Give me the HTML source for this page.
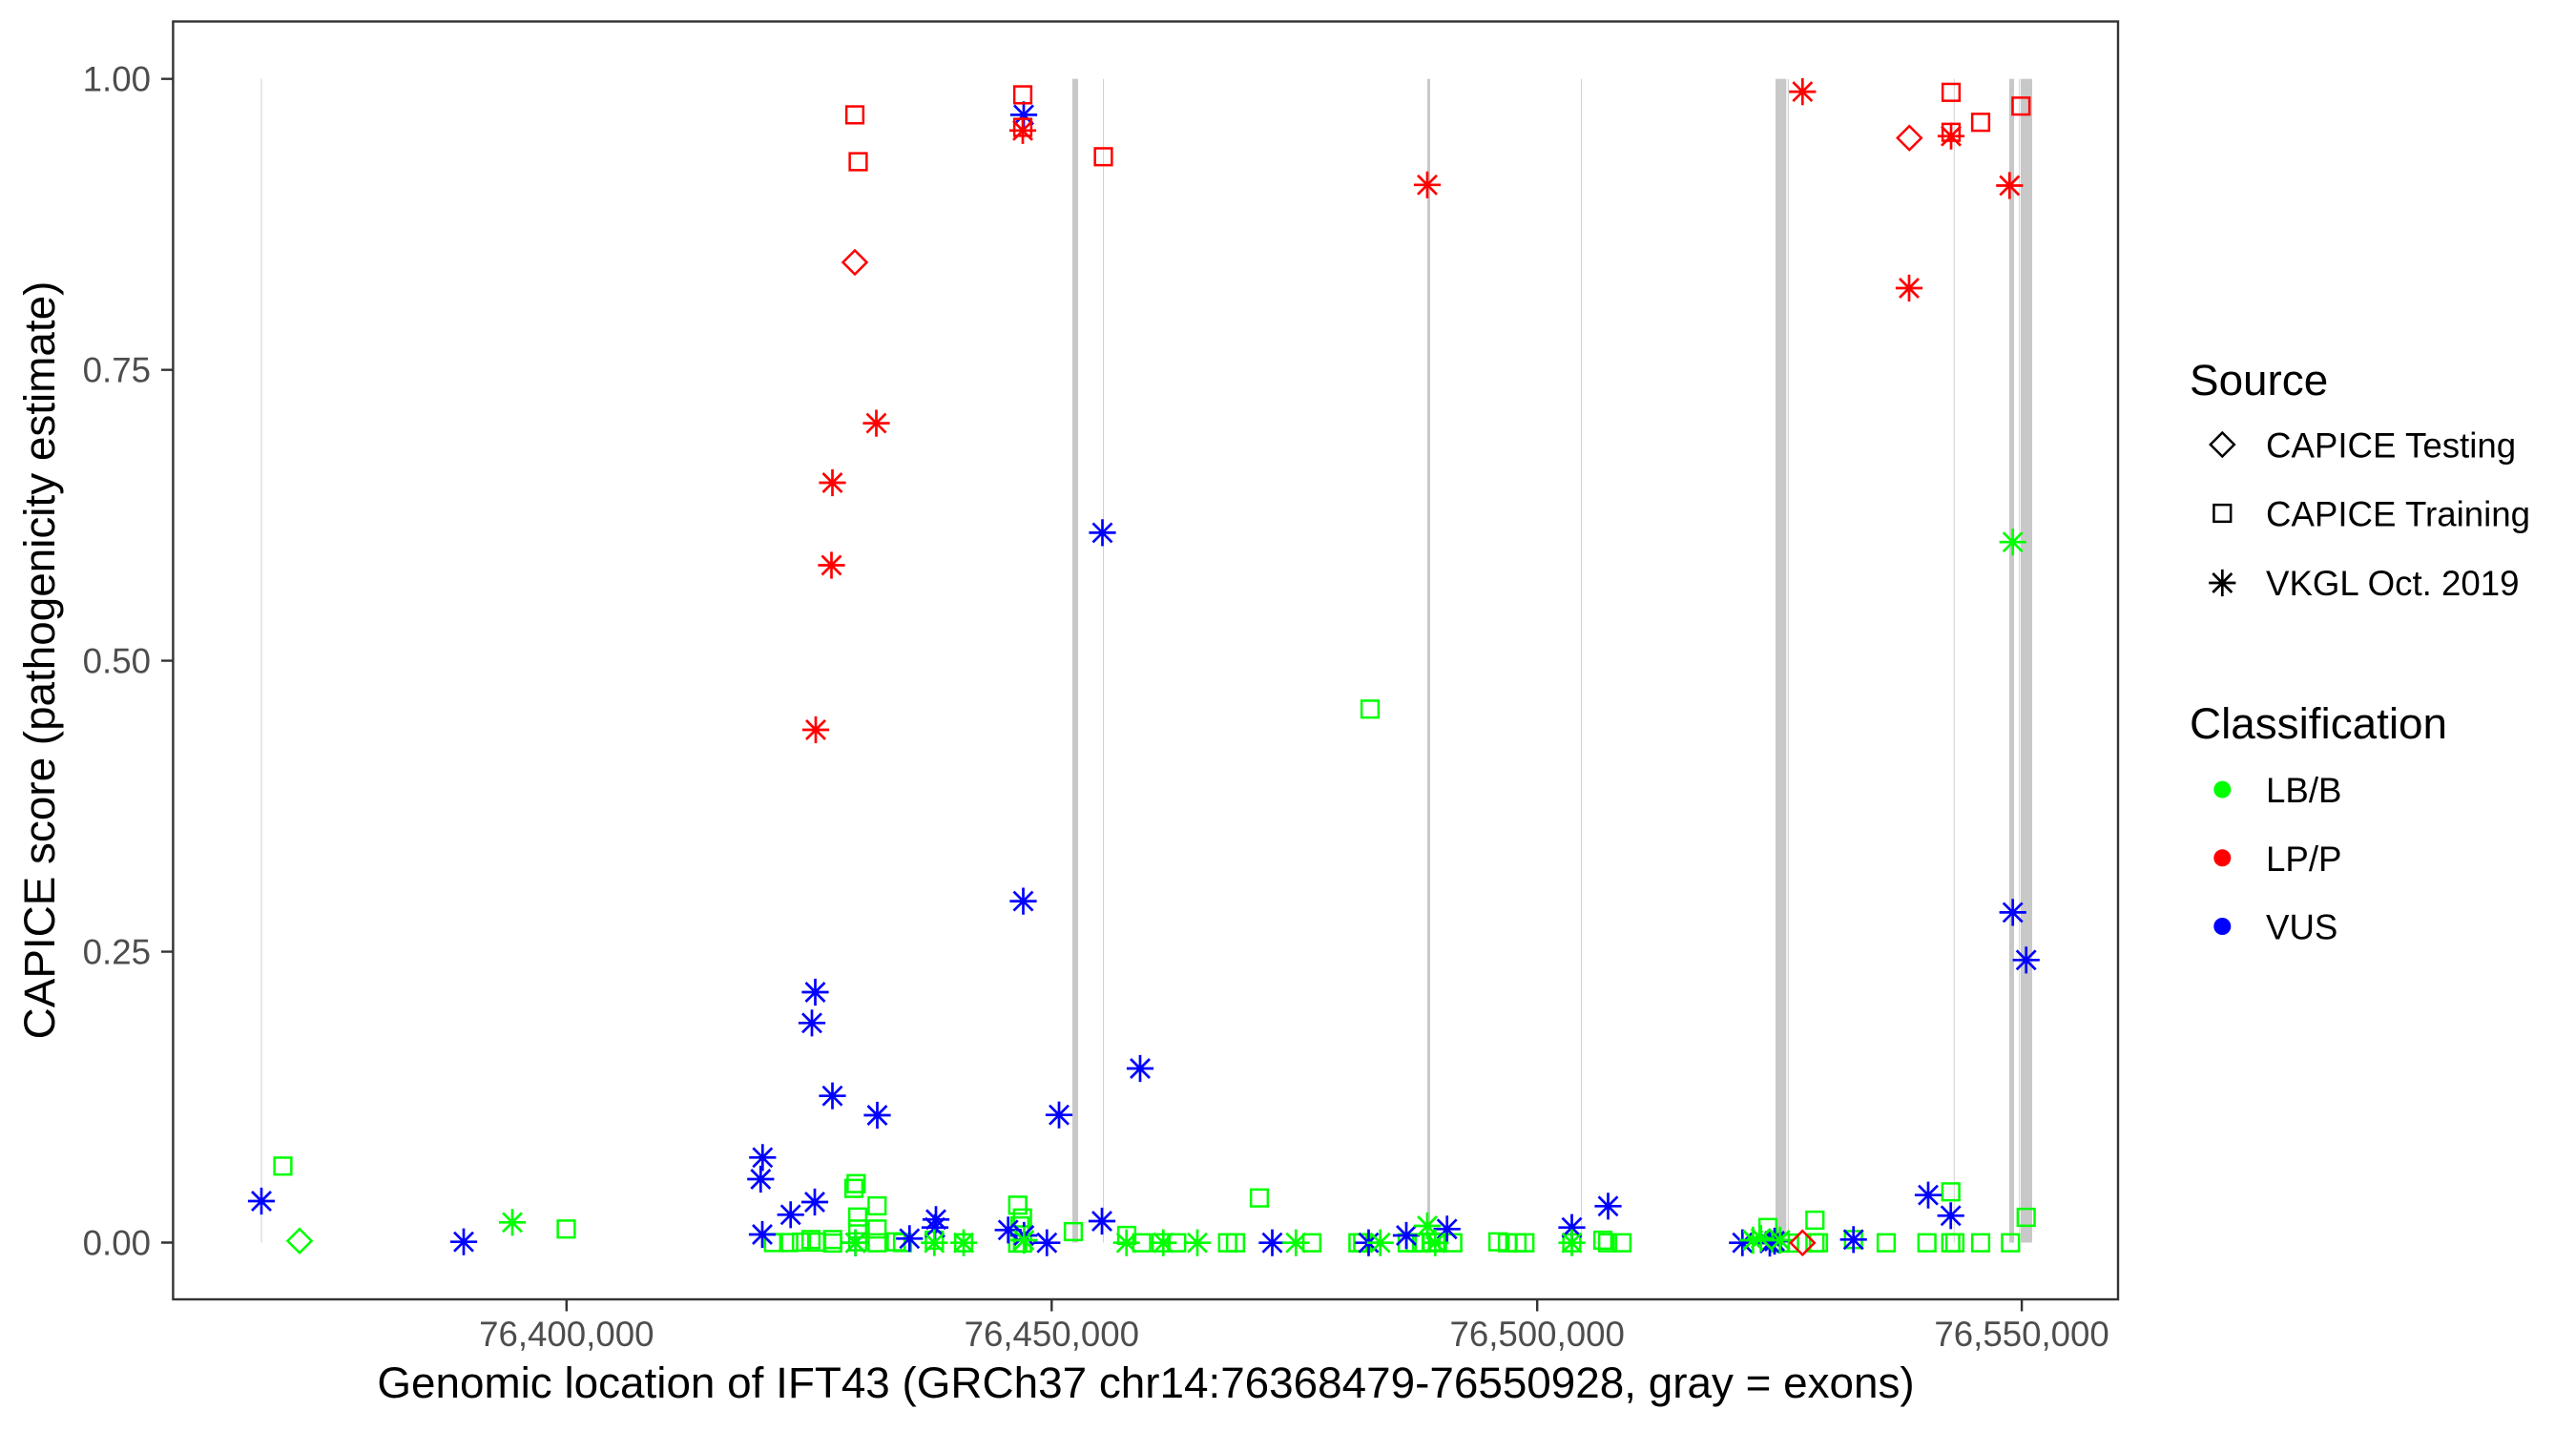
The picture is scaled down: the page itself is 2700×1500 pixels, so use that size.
<!DOCTYPE html>
<html>
<head>
<meta charset="utf-8">
<style>
html,body{margin:0;padding:0;background:#fff;}
svg{display:block;}
text{font-family:"Liberation Sans",Arial,sans-serif;}
.tk{font-size:36.67px;fill:#4d4d4d;}
.lt{font-size:36.67px;fill:#000;}
.tt{font-size:45.83px;fill:#000;}
.pts{fill:none;stroke:none;}
</style>
</head>
<body>
<svg width="2700" height="1500" viewBox="0 0 2700 1500" xmlns="http://www.w3.org/2000/svg">
<defs>
<marker id="sqg" markerUnits="userSpaceOnUse" markerWidth="1" markerHeight="1" refX="0" refY="0" overflow="visible"><rect x="-8.85" y="-8.85" width="17.7" height="17.7" fill="none" stroke="#00ff00" stroke-width="2.5"/></marker>
<marker id="sqr" markerUnits="userSpaceOnUse" markerWidth="1" markerHeight="1" refX="0" refY="0" overflow="visible"><rect x="-8.85" y="-8.85" width="17.7" height="17.7" fill="none" stroke="#ff0000" stroke-width="2.5"/></marker>
<marker id="asg" markerUnits="userSpaceOnUse" markerWidth="1" markerHeight="1" refX="0" refY="0" overflow="visible"><path d="M-14.1,0H14.1M0,-14.1V14.1M-10,-10L10,10M-10,10L10,-10" fill="none" stroke="#00ff00" stroke-width="2.7"/></marker>
<marker id="asb" markerUnits="userSpaceOnUse" markerWidth="1" markerHeight="1" refX="0" refY="0" overflow="visible"><path d="M-14.1,0H14.1M0,-14.1V14.1M-10,-10L10,10M-10,10L10,-10" fill="none" stroke="#0000ff" stroke-width="2.7"/></marker>
<marker id="asr" markerUnits="userSpaceOnUse" markerWidth="1" markerHeight="1" refX="0" refY="0" overflow="visible"><path d="M-14.1,0H14.1M0,-14.1V14.1M-10,-10L10,10M-10,10L10,-10" fill="none" stroke="#ff0000" stroke-width="2.7"/></marker>
<marker id="dmr" markerUnits="userSpaceOnUse" markerWidth="1" markerHeight="1" refX="0" refY="0" overflow="visible"><path d="M0,-12.5L12.5,0L0,12.5L-12.5,0Z" fill="none" stroke="#ff0000" stroke-width="2.5"/></marker>
</defs>
<rect x="0" y="0" width="2700" height="1500" fill="#fff"/>

<g fill="#c8c8c8">
<rect x="273.5" y="82.7" width="1" height="1219.8" fill="#d2d2d2"/>
<rect x="1124" y="82.7" width="6" height="1219.8"/>
<rect x="1156" y="82.7" width="1" height="1219.8" fill="#d2d2d2"/>
<rect x="1496" y="82.7" width="3" height="1219.8"/>
<rect x="1657" y="82.7" width="1" height="1219.8" fill="#d2d2d2"/>
<rect x="1861" y="82.7" width="11.3" height="1219.8"/>
<rect x="1873.8" y="82.7" width="1.2" height="1219.8" fill="#d2d2d2"/>
<rect x="2047.8" y="82.7" width="1" height="1219.8" fill="#d2d2d2"/>
<rect x="2106" y="82.7" width="5" height="1219.8"/>
<rect x="2116.2" y="82.7" width="1" height="1219.8" fill="#d2d2d2"/>
<rect x="2118" y="82.7" width="12" height="1219.8"/>
</g>

<polyline class="pts" marker-start="url(#sqg)" marker-mid="url(#sqg)" marker-end="url(#sqg)" points="296.5,1222.3 593.5,1288.3 810.7,1302.5 826.7,1302.5 840,1302 850,1299.3 856,1302 872.7,1299.3 872.7,1303 897.3,1240.7 895,1245.7 919.3,1264 899,1275.7 919.3,1288.3 899,1288.3 899,1301.7 919.3,1302.7 939.3,1301.7 946,1302.5 979.3,1300 1010,1302.7 1066.7,1263.3 1071.7,1276.7 1069,1285 1066.7,1303 1071.7,1303 1125,1291 1181,1295 1196.7,1302.7 1217,1302.7 1233.3,1302.7 1286.7,1302.7 1295,1302.7 1320,1255.7 1375,1302.7 1423.3,1302.7 1428.3,1302.7 1436,743.3 1475,1302.7 1483.3,1302.7 1490,1302.7 1500,1302 1506.7,1302.7 1522.7,1302.7 1570,1301.7 1580,1302.7 1590,1302.7 1598.3,1302.7 1647.5,1302.7 1680,1300 1685,1302.7 1700,1302.7 1853,1286.7 1866,1302.7 1875.7,1303 1902.3,1279 1902.3,1302.7 1906,1302.7 1942.7,1299.3 1977,1302.7 2019.7,1302.7 2044.7,1249.3 2044.7,1302.7 2049,1302.7 2076,1302.7 2107.3,1302.7 2123.7,1276"/>
<path d="M314,1288.2L326.5,1300.7L314,1313.2L301.5,1300.7Z" fill="none" stroke="#00ff00" stroke-width="2.5"/>

<polyline class="pts" marker-start="url(#asb)" marker-mid="url(#asb)" marker-end="url(#asb)" points="1073,120.4 1155.5,558.4 1072.5,944.6 854.5,1040 851,1072.3 872.5,1148.7 919.5,1169 799.3,1213.3 797.3,1236 854,1260 828.7,1273.3 799,1294 274,1259 486,1301.7 896.7,1302.7 953.3,1298.3 981,1278.3 980,1286.7 1056.7,1289.3 1073.3,1295 1097.3,1302.7 1110,1168.7 1195,1120 1155,1280 1333.5,1302.7 1434.5,1302.7 1474,1295 1516.7,1288.3 1647.5,1286.7 1685.5,1264.3 1826.3,1302.7 1855,1303 1860,1301 1942.7,1299.3 2021,1252.7 2044.7,1274.3 2109.7,956.4 2123.7,1006.3"/>

<polyline class="pts" marker-start="url(#asg)" marker-mid="url(#asg)" marker-end="url(#asg)" points="537,1281.3 896.7,1302.7 979.3,1302.7 1010,1302.7 1073.3,1300 1180.7,1302.7 1219.3,1302.7 1255,1302.7 1358.3,1302.7 1446.7,1302.7 1496,1285 1504.3,1302.7 1647.5,1302.7 1837.3,1300 1845.7,1298 1865.7,1300 2109.7,568.2"/>

<polyline class="pts" marker-start="url(#sqr)" marker-mid="url(#sqr)" marker-end="url(#sqr)" points="896,120.4 899.5,169.5 1072,99.4 1072,133.5 1156.5,164.3 2045,96.8 2118.3,111.2 2076,128.2 2045,138.7"/>
<polyline class="pts" marker-start="url(#dmr)" marker-mid="url(#dmr)" marker-end="url(#dmr)" points="896,275 2001.3,144.6 1889.3,1302.7"/>
<polyline class="pts" marker-start="url(#asr)" marker-mid="url(#asr)" marker-end="url(#asr)" points="918.5,443.6 872.5,506 871.5,592.5 855,765 1072,136.8 1496,193.8 1889.3,96.1 2045,142.7 2106.3,194.5 2001,302"/>

<rect x="181.4" y="22.5" width="2038.6" height="1339.5" fill="none" stroke="#333333" stroke-width="2.4"/>
<path d="M169,82.7H181.4M169,387.7H181.4M169,692.6H181.4M169,997.6H181.4M169,1302.5H181.4M593.8,1362V1374.5M1102.3,1362V1374.5M1611.2,1362V1374.5M2119.1,1362V1374.5" stroke="#333333" stroke-width="2.4" fill="none"/>

<g class="tk" text-anchor="end">
<text x="158" y="95.7">1.00</text>
<text x="158" y="400.7">0.75</text>
<text x="158" y="705.6">0.50</text>
<text x="158" y="1010.6">0.25</text>
<text x="158" y="1315.5">0.00</text>
</g>
<g class="tk" text-anchor="middle">
<text x="593.8" y="1411">76,400,000</text>
<text x="1102.3" y="1411">76,450,000</text>
<text x="1611.2" y="1411">76,500,000</text>
<text x="2119.1" y="1411">76,550,000</text>
</g>

<text class="tt" x="1201" y="1465" text-anchor="middle">Genomic location of IFT43 (GRCh37 chr14:76368479-76550928, gray = exons)</text>
<text class="tt" transform="translate(57,692) rotate(-90)" text-anchor="middle">CAPICE score (pathogenicity estimate)</text>

<text class="tt" x="2295" y="414">Source</text>
<path d="M2329.3,453.5L2341.8,466L2329.3,478.5L2316.8,466Z" fill="none" stroke="#000" stroke-width="2.5"/>
<rect x="2320.45" y="529.15" width="17.7" height="17.7" fill="none" stroke="#000" stroke-width="2.5"/>
<path d="M2315.2,611H2343.4M2329.3,596.9V625.1M2319.3,601L2339.3,621M2319.3,621L2339.3,601" fill="none" stroke="#000" stroke-width="2.7"/>
<text class="lt" x="2375" y="479.5">CAPICE Testing</text>
<text class="lt" x="2375" y="551.5">CAPICE Training</text>
<text class="lt" x="2375" y="624">VKGL Oct. 2019</text>

<text class="tt" x="2295" y="774">Classification</text>
<circle cx="2329.3" cy="827.6" r="9" fill="#00ff00"/>
<circle cx="2329.3" cy="899.3" r="9" fill="#ff0000"/>
<circle cx="2329.3" cy="971" r="9" fill="#0000ff"/>
<text class="lt" x="2375" y="841">LB/B</text>
<text class="lt" x="2375" y="913">LP/P</text>
<text class="lt" x="2375" y="984.5">VUS</text>
</svg>
</body>
</html>
